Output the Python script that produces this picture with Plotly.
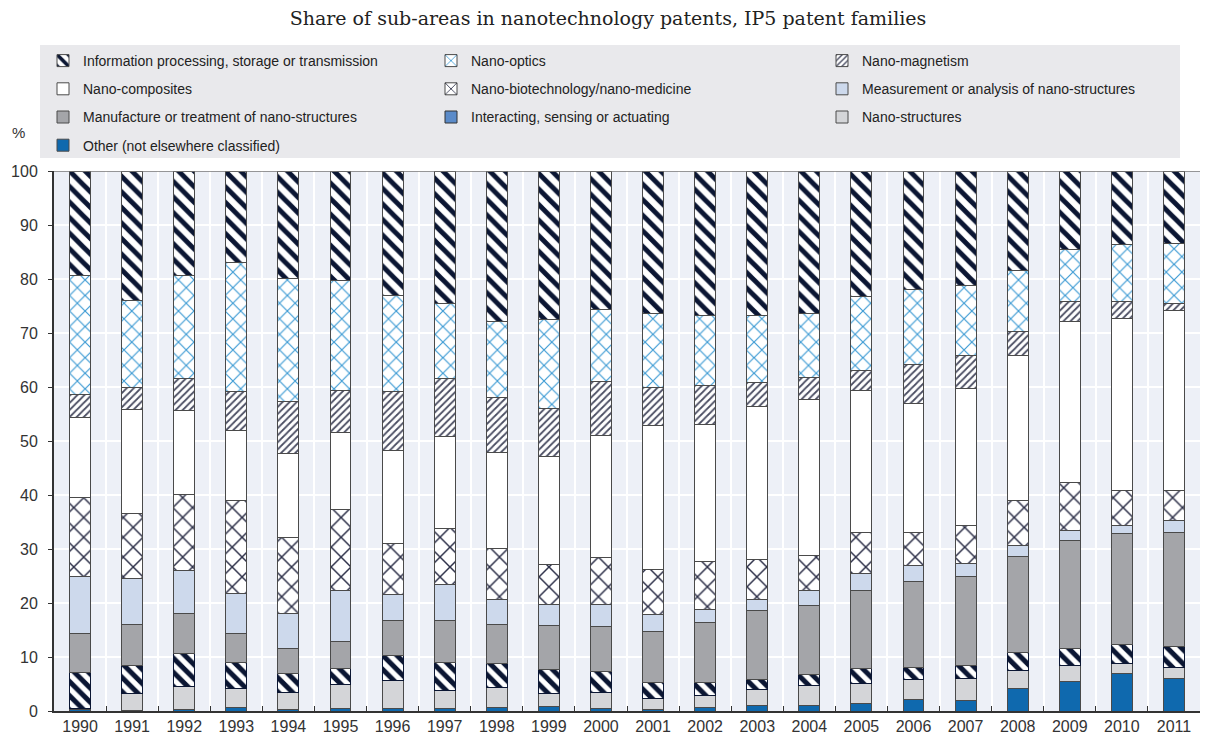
import plotly.graph_objects as go

years = [str(y) for y in range(1990, 2012)]

# shares (%) per sub-area, bottom of stack first
other = [0.2, 0.1, 0.2, 0.7, 0.2, 0.4, 0.4, 0.4, 0.7, 0.8, 0.4, 0.3, 0.6, 1.1, 1.1, 1.3, 2.2, 2.0, 4.2, 5.4, 6.9, 6.0]
nano_structures = [0.2, 3.2, 4.4, 3.4, 3.2, 4.6, 5.3, 3.4, 3.6, 2.5, 3.0, 2.0, 2.2, 2.9, 3.7, 3.8, 3.7, 4.0, 3.3, 3.1, 1.9, 2.1]
interacting = [6.7, 5.1, 6.1, 4.9, 3.5, 2.8, 4.5, 5.2, 4.5, 4.3, 4.0, 3.0, 2.4, 1.9, 1.9, 2.8, 2.2, 2.5, 3.4, 3.0, 3.5, 3.9]
manufacture = [7.2, 7.7, 7.3, 5.4, 4.6, 5.0, 6.5, 7.7, 7.2, 8.3, 8.2, 9.5, 11.2, 12.7, 12.9, 14.5, 15.8, 16.4, 17.7, 20.0, 20.5, 21.1]
measurement = [10.6, 8.5, 8.0, 7.3, 6.6, 9.6, 4.9, 6.8, 4.6, 3.9, 4.2, 3.0, 2.4, 2.0, 2.7, 3.0, 3.0, 2.4, 2.0, 1.9, 1.5, 2.1]
biotech = [14.6, 12.0, 14.1, 17.2, 14.0, 14.9, 9.4, 10.3, 9.5, 7.3, 8.6, 8.4, 8.8, 7.4, 6.5, 7.6, 6.1, 7.1, 8.3, 9.0, 6.6, 5.7]
composites = [14.9, 19.3, 15.5, 13.0, 15.5, 14.2, 17.3, 17.0, 17.7, 20.0, 22.6, 26.6, 25.5, 28.4, 28.8, 26.3, 23.9, 25.3, 27.0, 29.8, 31.8, 33.2]
magnetism = [4.2, 4.0, 6.0, 7.2, 9.7, 7.9, 10.8, 10.8, 10.3, 8.9, 10.0, 7.1, 7.1, 4.5, 4.1, 3.7, 7.2, 6.2, 4.3, 3.6, 3.1, 1.3]
optics = [22.0, 16.2, 19.0, 24.0, 22.8, 20.3, 17.8, 13.8, 14.0, 16.5, 13.4, 13.7, 13.1, 12.4, 11.9, 13.7, 14.0, 12.9, 11.3, 9.6, 10.6, 11.2]
info = [19.4, 23.9, 19.4, 16.9, 19.9, 20.3, 23.1, 24.6, 27.9, 27.5, 25.6, 26.4, 26.7, 26.7, 26.4, 23.3, 21.9, 21.2, 18.5, 14.6, 13.6, 13.4]

NAVY = "#0b1633"
OUTLINE = "#4a4a4a"

# (name, values, fill colour, pattern shape, pattern colour, pattern size, solidity, legend, rank)
series = [
    ("Other (not elsewhere classified)", other, "#0f69ae", "", None, 8, 0.3, "legend", 4),
    ("Nano-structures", nano_structures, "#d4d5d8", "", None, 8, 0.3, "legend3", 3),
    ("Interacting, sensing or actuating", interacting, "white", "\\", NAVY, 10, 0.5, None, 3),
    ("Manufacture or treatment of nano-structures", manufacture, "#a4a5a9", "", None, 8, 0.3, "legend", 3),
    ("Measurement or analysis of nano-structures", measurement, "#cdd9ec", "", None, 8, 0.3, "legend3", 2),
    ("Nano-biotechnology/nano-medicine", biotech, "white", "x", "#2c2f48", 14, 0.2, "legend2", 2),
    ("Nano-composites", composites, "white", "", None, 8, 0.3, "legend", 2),
    ("Nano-magnetism", magnetism, "white", "/", "#4a4d62", 5, 0.35, "legend3", 1),
    ("Nano-optics", optics, "white", "x", "#3b9ad4", 11, 0.2, "legend2", 1),
    ("Information processing, storage or transmission", info, "white", "\\", NAVY, 11, 0.45, "legend", 1),
]

fig = go.Figure()
for i, (name, vals, col, shape, fg, size, sol, leg, rank) in enumerate(series):
    line_col = NAVY if name.startswith("Interacting") else OUTLINE
    pattern = dict(shape=shape, fgcolor=fg, bgcolor=col, size=size, solidity=sol, fillmode="replace") if shape else dict(shape="")
    fig.add_trace(go.Bar(
        x=years, y=vals, name=name,
        marker=dict(color=col, line=dict(color=line_col, width=1), pattern=pattern),
        showlegend=leg is not None,
        legend=leg if leg else "legend",
        legendgroup="g%d" % i,
        legendrank=rank,
    ))

# legend entry for interacting shows a plain blue swatch
fig.add_trace(go.Bar(
    x=years, y=[None] * len(years), name="Interacting, sensing or actuating",
    marker=dict(color="#5b8bc9", line=dict(color="#333333", width=1)),
    legend="legend2", legendgroup="gdummy", legendrank=3, hoverinfo="skip",
))

leg_common = dict(
    orientation="v", yanchor="top", y=(711 - 45) / 540, bgcolor="rgba(0,0,0,0)",
    font=dict(family="Liberation Sans, Arial, sans-serif", size=14, color="#222222"),
    tracegroupgap=7, traceorder="grouped", itemwidth=30,
)

# page has an 8px body margin, so the figure itself starts at (8, 8)
fig.update_layout(
    width=1201, height=730,
    margin=dict(l=46, r=9, t=163, b=27, autoexpand=False),
    paper_bgcolor="white",
    plot_bgcolor="#edf0f7",
    barmode="stack",
    bargap=0.6,
    title=dict(
        text="Share of sub-areas in nanotechnology patents, IP5 patent families",
        font=dict(family="DejaVu Serif, serif", size=19, color="#222222"),
        x=(608 - 8) / 1201, xref="container", xanchor="center",
        y=1 - (18 - 8) / 730, yref="container", yanchor="middle",
    ),
    legend=dict(x=(43 - 54) / 1146, xanchor="left", **leg_common),
    legend2=dict(x=(431 - 54) / 1146, xanchor="left", **leg_common),
    legend3=dict(x=(822 - 54) / 1146, xanchor="left", **leg_common),
    font=dict(family="Liberation Sans, Arial, sans-serif", color="#333333"),
    xaxis=dict(
        type="category", tickson="boundaries",
        showgrid=True, gridcolor="white", gridwidth=1.5,
        ticks="inside", ticklen=5, tickcolor="#333333",
        showline=True, linecolor="#333333", linewidth=2,
        tickfont=dict(size=16, color="#333333"),
        range=[-0.5, 21.5],
    ),
    yaxis=dict(
        range=[0, 100], dtick=10,
        showgrid=True, gridcolor="white", gridwidth=1.5,
        ticks="outside", ticklen=4, tickcolor="#333333",
        ticklabelstandoff=7,
        showline=True, linecolor="#333333", linewidth=2,
        tickfont=dict(size=16, color="#333333"),
        zeroline=False,
    ),
    shapes=[
        dict(type="rect", xref="paper", yref="paper",
             x0=(40 - 54) / 1146, x1=(1180 - 54) / 1146,
             y0=(711 - 158) / 540, y1=(711 - 45) / 540,
             fillcolor="#e9e9ec", line=dict(width=0), layer="below"),
        dict(type="line", xref="paper", yref="y", x0=0, x1=1, y0=100, y1=100,
             line=dict(color="#777777", width=1.5)),
    ],
    annotations=[
        dict(text="%", xref="paper", yref="paper", x=(18 - 54) / 1146, y=(711 - 133) / 540,
             xanchor="center", yanchor="middle", showarrow=False,
             font=dict(size=15, color="#333333")),
    ],
)

fig.write_html("out.html")
